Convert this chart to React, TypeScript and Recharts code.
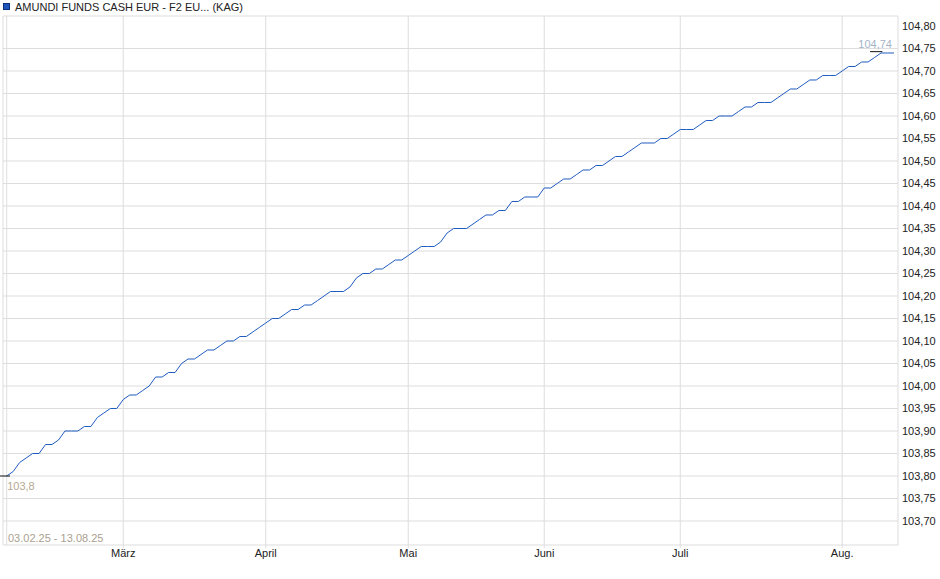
import { LineChart, Line, XAxis, YAxis, CartesianGrid, ReferenceLine, ReferenceDot } from 'recharts';

const chartTitle = 'AMUNDI FUNDS CASH EUR - F2 EU... (KAG)';
const periodLabel = '03.02.25 - 13.08.25';

// fund price (EUR) per trading day, grouped by month
const febValues = [103.8, 103.81, 103.83, 103.84, 103.85, 103.85, 103.87, 103.87, 103.88, 103.9, 103.9, 103.9, 103.91, 103.91, 103.93, 103.94, 103.95, 103.95];
const marValues = [103.97, 103.98, 103.98, 103.99, 104.0, 104.02, 104.02, 104.03, 104.03, 104.05, 104.06, 104.06, 104.07, 104.08, 104.08, 104.09, 104.1, 104.1, 104.11, 104.11, 104.12, 104.13];
const aprValues = [104.14, 104.15, 104.15, 104.16, 104.17, 104.17, 104.18, 104.18, 104.19, 104.2, 104.21, 104.21, 104.21, 104.22, 104.24, 104.25, 104.25, 104.26, 104.26, 104.27, 104.28, 104.28];
const mayValues = [104.29, 104.3, 104.31, 104.31, 104.31, 104.32, 104.34, 104.35, 104.35, 104.35, 104.36, 104.37, 104.38, 104.38, 104.39, 104.39, 104.41, 104.41, 104.42, 104.42, 104.42];
const junValues = [104.44, 104.44, 104.45, 104.46, 104.46, 104.47, 104.48, 104.48, 104.49, 104.49, 104.5, 104.51, 104.51, 104.52, 104.53, 104.54, 104.54, 104.54, 104.55, 104.55, 104.56];
const julValues = [104.57, 104.57, 104.57, 104.58, 104.59, 104.59, 104.6, 104.6, 104.6, 104.61, 104.62, 104.62, 104.63, 104.63, 104.63, 104.64, 104.65, 104.66, 104.66, 104.67, 104.68, 104.68, 104.69, 104.69, 104.69];
const augValues = [104.7, 104.71, 104.71, 104.72, 104.72, 104.73, 104.74, 104.74, 104.74];

const months = [febValues, marValues, aprValues, mayValues, junValues, julValues, augValues];
const monthLabels = ['März', 'April', 'Mai', 'Juni', 'Juli', 'Aug.'];

const priceTicks = [
    103.7, 103.75, 103.8, 103.85, 103.9, 103.95, 104.0, 104.05, 104.1, 104.15, 104.2, 104.25,
    104.3, 104.35, 104.4, 104.45, 104.5, 104.55, 104.6, 104.65, 104.7, 104.75, 104.8,
];

const values = months.flat();
const data = values.map((value, i) => ({ i, value }));
const lastIndex = values.length - 1;
const startValue = values[0];
const endValue = values[lastIndex];

// first trading day of each month after February
const monthStarts: number[] = [];
months.reduce((acc, m, k) => {
    if (k > 0) monthStarts.push(acc);
    return acc + m.length;
}, 0);

const xDomain: [number, number] = [-0.57, lastIndex + 0.62];
const yDomain: [number, number] = [103.6467, 104.8222];

const fmt = (v: number, digits = 2) => v.toFixed(digits).replace('.', ',');

const App = () => {
    return (
        <div
            style={{
                position: 'absolute',
                left: 0,
                top: 0,
                width: 940,
                height: 579,
                background: '#fff',
                fontFamily: '"Liberation Sans", Arial, sans-serif',
                fontSize: 11,
            }}
        >
            <div style={{ position: 'absolute', left: 3, top: 0, height: 13, display: 'flex', alignItems: 'center', color: '#222' }}>
                <span style={{ width: 7, height: 7, background: '#1d55b8', border: '1px solid #0c3080', boxSizing: 'border-box', marginRight: 5 }} />
                <span>{chartTitle}</span>
            </div>
            <div style={{ position: 'absolute', left: 8, top: 532, color: '#aa9f90' }}>{periodLabel}</div>
            <LineChart width={940} height={579} data={data} margin={{ top: 16, right: 0, bottom: 0, left: 3 }}>
                <CartesianGrid
                    stroke="#dddddd"
                    strokeWidth={1}
                    horizontalValues={[yDomain[0], ...priceTicks.filter((t) => t < 104.8), yDomain[1]]}
                    verticalValues={[xDomain[0], 0, ...monthStarts, xDomain[1]]}
                />
                <XAxis
                    dataKey="i"
                    type="number"
                    domain={xDomain}
                    allowDataOverflow
                    ticks={monthStarts}
                    interval={0}
                    tickFormatter={(v: number) => monthLabels[monthStarts.indexOf(v)] ?? ''}
                    axisLine={false}
                    tickLine={{ stroke: '#dddddd' }}
                    tickSize={3}
                    tickMargin={1}
                    height={34}
                    tick={{ fill: '#222', fontSize: 11 }}
                />
                <YAxis
                    orientation="right"
                    type="number"
                    domain={yDomain}
                    allowDataOverflow
                    ticks={priceTicks}
                    interval={0}
                    tickFormatter={(v: number) => fmt(v)}
                    axisLine={false}
                    tickLine={false}
                    tickSize={0}
                    tickMargin={4}
                    width={42}
                    tick={{ fill: '#222', fontSize: 11 }}
                />
                <Line
                    type="linear"
                    dataKey="value"
                    stroke="#1f5cc0"
                    strokeWidth={1}
                    dot={false}
                    isAnimationActive={false}
                />
                <ReferenceLine
                    segment={[{ x: -1.03, y: startValue }, { x: 0.5, y: startValue }]}
                    stroke="#111"
                    strokeWidth={1}
                    ifOverflow="visible"
                />
                <ReferenceLine
                    segment={[{ x: lastIndex - 3.7, y: endValue + 0.003 }, { x: lastIndex - 1.8, y: endValue + 0.003 }]}
                    stroke="#111"
                    strokeWidth={1}
                    ifOverflow="visible"
                />
                <ReferenceDot
                    x={0}
                    y={startValue}
                    r={0}
                    stroke="none"
                    fill="none"
                    label={{
                        content: ({ viewBox }: any) => (
                            <text x={viewBox.x + 0.5} y={viewBox.y + 14} fill="#b5a893" fontSize={11}>
                                {fmt(startValue, 1)}
                            </text>
                        ),
                    }}
                />
                <ReferenceDot
                    x={lastIndex}
                    y={endValue}
                    r={0}
                    stroke="none"
                    fill="none"
                    label={{
                        content: ({ viewBox }: any) => (
                            <text x={viewBox.x - 2} y={viewBox.y - 5} fill="#a6b3c7" fontSize={11} textAnchor="end">
                                {fmt(endValue)}
                            </text>
                        ),
                    }}
                />
            </LineChart>
        </div>
    );
};

export default App;
